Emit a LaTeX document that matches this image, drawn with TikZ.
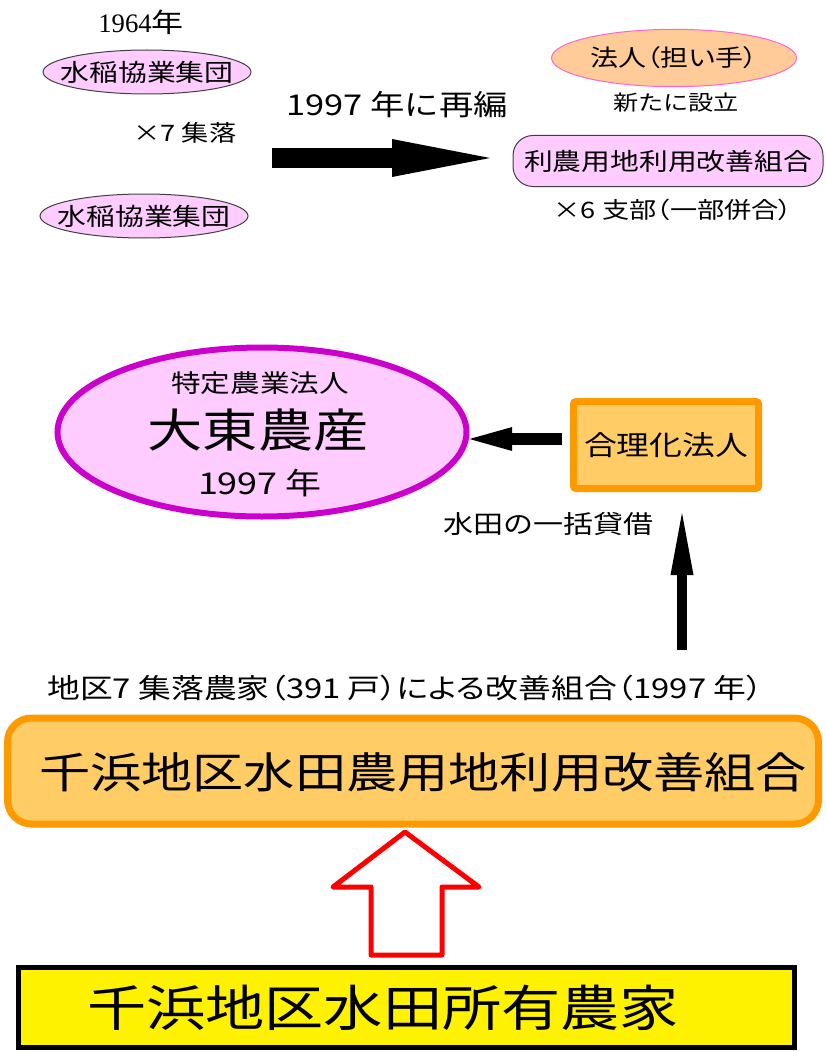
\documentclass[tikz,border=0pt]{standalone}
\usepackage{fontspec}
\newfontfamily\jpfont{Noto Sans CJK JP}[FakeStretch=1.2]
\newfontfamily\jppfont{Noto Sans CJK JP}[FakeStretch=1.2,RawFeature=+palt]
\newfontfamily\numfont{Liberation Serif}
\usetikzlibrary{shapes.geometric,arrows.meta}
\definecolor{lilac}{RGB}{255,204,255}
\definecolor{peach}{RGB}{255,204,153}
\definecolor{rosy}{RGB}{255,102,204}
\definecolor{plum}{RGB}{204,0,204}
\definecolor{apricot}{RGB}{255,204,102}
\definecolor{tangerine}{RGB}{255,153,0}
\tikzset{
  jp/.style={inner sep=0pt,font=\jpfont\fontsize{#1}{#1}\selectfont},
  jpp/.style={inner sep=0pt,font=\jppfont\fontsize{#1}{#1}\selectfont},
  groupoval/.style={ellipse,draw=black!75,line width=0.75pt,fill=lilac,minimum width=156pt,minimum height=33pt,label={[jp=18]center:#1}},
  orangebox/.style={draw=tangerine,fill=apricot,line width=5.25pt},
}
\begin{document}
\begin{tikzpicture}[x=0.75pt,y=0.75pt,yscale=-1,xscale=1]
\useasboundingbox (0,0) rectangle (825,1052);
% 1964: collective groups
\draw (141,22) node (yr1964) [inner sep=0pt,font=\numfont\fontsize{20}{20}\selectfont] {1964{\jpfont 年}};
\draw (147,72) node (coopa) [groupoval=水稲協業集団] {};
\draw (185,133) node (seven) [jp=17] {×7 集落};
\draw (144,216) node (coopb) [groupoval=水稲協業集団] {};
% 1997: reorganised
\draw (397,105) node (reorg) [jp=21.5] {1997 年に再編};
\coordinate (reorgfrom) at (272,158);
\coordinate (reorgto) at (490,158);
\draw [line width=15pt,-{Triangle[length=73.5pt,width=28.5pt,line width=0pt]}] (reorgfrom) -- (reorgto);
\draw (674,58) node (bearer) [ellipse,draw=rosy,line width=0.75pt,fill=peach,minimum width=183.75pt,minimum height=43pt,label={[jpp=17.5]center:法人（担い手）}] {};
\draw (676,103) node (newly) [jp=15.75] {新たに設立};
\draw (668,161) node (kaizen) [draw=black!75,line width=0.75pt,fill=lilac,rounded corners=15pt,minimum width=232.5pt,minimum height=38.25pt,jp=18] {利農用地利用改善組合};
\draw (673,210) node (six) [jpp=17] {×6 支部（一部併合）};
% specified farm corporation
\draw (262,432) node (daito) [ellipse,draw=plum,fill=lilac,line width=4.5pt,minimum width=306.75pt,minimum height=126.75pt] {};
\draw (260,383) node (tokutei) [jp=18.5] {特定農業法人};
\draw (258,430) node (daitoname) [jp=34.5] {大東農産};
\draw (260,483) node (daitoyear) [jp=22.5] {1997 年};
\draw (666,445) node (gori) [orangebox,rounded corners=2pt,minimum width=138.75pt,minimum height=65.25pt,jp=20.5] {合理化法人};
\coordinate (arrowrow) at (0,439);
\draw [line width=9pt,-{Triangle[length=32pt,width=18pt,line width=0pt]},shorten <=6pt] (gori.west |- arrowrow) -- (daito.east |- arrowrow);
\draw (548,524) node (lease) [jp=18.75] {水田の一括貸借};
\coordinate (upfoot) at (682,650);
\draw [line width=7.5pt,-{Triangle[length=46.5pt,width=17.25pt,line width=0pt]},shorten >=15.75pt] (upfoot) -- (upfoot |- gori.south);
% improvement association
\draw (405,688) node (chiku) [jpp=20.5] {地区7 集落農家（391 戸）による改善組合（1997 年）};
\draw (413,771) node (senpama) [orangebox,rounded corners=18pt,minimum width=608.25pt,minimum height=79.5pt] {};
\draw (423,772) node (senpamatxt) [jp=32] {千浜地区水田農用地利用改善組合};
% owners
\draw [red,line width=3.75pt,fill=white,line join=round] (371,955) -- (371,887) -- (333,887) -- (405,832) -- (479,887) -- (442,887) -- (442,955) -- cycle;
\draw (406,1007) node (owners) [draw=black,fill=yellow,line width=3.75pt,minimum width=582pt,minimum height=60pt] {};
\draw (383,1008) node (ownerstxt) [jp=37] {千浜地区水田所有農家};
\end{tikzpicture}
\end{document}
